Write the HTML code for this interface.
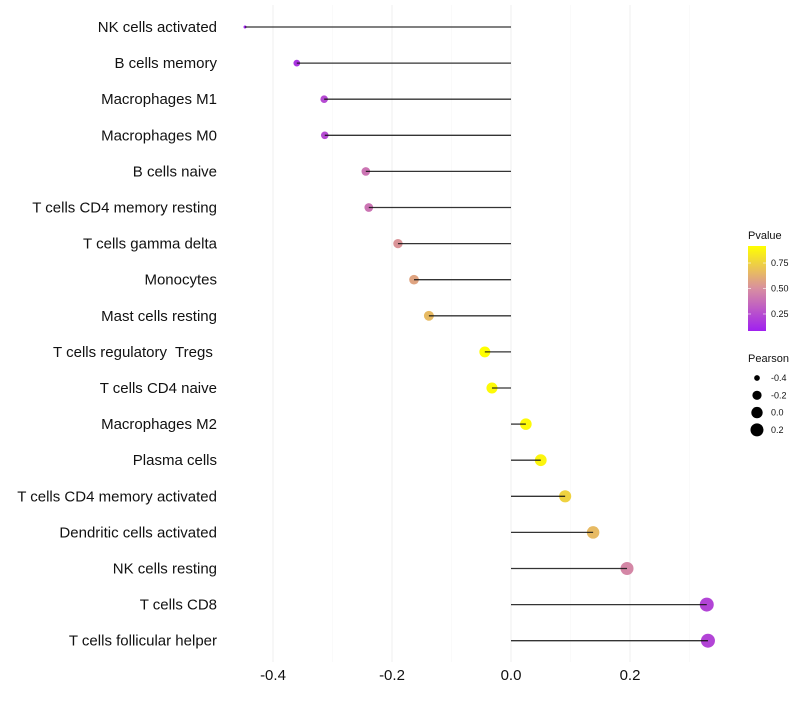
<!DOCTYPE html>
<html><head><meta charset="utf-8"><style>
body{margin:0;background:#fff;}
svg text{font-family:"Liberation Sans",sans-serif;white-space:pre;}
</style></head><body>
<svg id="chart" width="800" height="700" xml:space="preserve"></svg>
<script>
const categories=["NK cells activated","B cells memory","Macrophages M1","Macrophages M0","B cells naive","T cells CD4 memory resting","T cells gamma delta","Monocytes","Mast cells resting","T cells regulatory  Tregs ","T cells CD4 naive","Macrophages M2","Plasma cells","T cells CD4 memory activated","Dendritic cells activated","NK cells resting","T cells CD8","T cells follicular helper"];
const pearson=[-0.447,-0.360,-0.314,-0.313,-0.244,-0.239,-0.190,-0.163,-0.138,-0.044,-0.032,0.025,0.050,0.091,0.138,0.195,0.329,0.331];
const pvalue=[0.08,0.16,0.24,0.24,0.40,0.40,0.52,0.58,0.66,0.92,0.90,0.90,0.88,0.75,0.66,0.47,0.22,0.22];
const xTicks=[-0.4,-0.2,0.0,0.2];
const xTickLabels=["-0.4","-0.2","0.0","0.2"];
const xMinor=[-0.3,-0.1,0.1,0.3];
const pTicks=[0.25,0.50,0.75];
const sizeLegend=[-0.4,-0.2,0.0,0.2];

const NS="http://www.w3.org/2000/svg";
const svg=document.getElementById('chart');
function mk(t,a,p){const e=document.createElementNS(NS,t);for(const k in a)e.setAttribute(k,a[k]);(p||svg).appendChild(e);return e;}
const x=v=>511+v*595;
const y=i=>27+i*36.1;
const pMin=0.083,pMax=0.917;
function col(p){
  let t=(p-pMin)/(pMax-pMin);t=Math.max(0,Math.min(1,t));
  const a=[160,32,240],m=[216,143,160],b=[255,255,0];
  let c;
  if(t<0.5){const u=t*2;c=a.map((v,k)=>v+(m[k]-v)*u);}else{const u=(t-0.5)*2;c=m.map((v,k)=>v+(b[k]-v)*u);}
  return `rgb(${c.map(Math.round).join(',')})`;
}
const sMin=Math.min(...pearson),sMax=Math.max(...pearson);
const rad=v=>{const f=Math.max(0,(v-sMin)/(sMax-sMin));return 1.5+5.5*Math.sqrt(f);};

xMinor.forEach(v=>{const l=mk('line',{x1:x(v),x2:x(v),y1:5,y2:662,stroke:'#f7f7f7','stroke-width':0.6});
});
xTicks.forEach((v,i)=>{const l=mk('line',{x1:x(v),x2:x(v),y1:5,y2:662,stroke:'#f0f0f0','stroke-width':1.1});

const t=mk('text',{x:x(v),y:680,'text-anchor':'middle','font-size':15,fill:'#111'});t.textContent=xTickLabels[i];
});
categories.forEach((c,i)=>{
  const t=mk('text',{x:217,y:y(i)+5,'text-anchor':'end','font-size':15,fill:'#111'});t.textContent=c;
  
  const p=mk('circle',{cx:x(pearson[i]),cy:y(i),r:rad(pearson[i]),fill:col(pvalue[i])});
  
  const s=mk('line',{x1:x(0),x2:x(pearson[i]),y1:y(i),y2:y(i),stroke:'#111','stroke-width':1.3,'stroke-opacity':0.85});
  
});
const defs=mk('defs',{});
const g=mk('linearGradient',{id:'pg',x1:0,y1:1,x2:0,y2:0},defs);
for(let k=0;k<=10;k++){mk('stop',{offset:k/10,'stop-color':col(pMin+(pMax-pMin)*k/10)},g);}
const lt=mk('text',{x:748,y:239,'font-size':11,fill:'#111'});lt.textContent='Pvalue';

const bar=mk('rect',{x:748,y:246,width:18,height:85,fill:'url(#pg)'});

pTicks.forEach(p=>{const yy=331-(p-pMin)/(pMax-pMin)*85;
 mk('line',{x1:748,x2:751,y1:yy,y2:yy,stroke:'#fff','stroke-opacity':0.6});mk('line',{x1:763,x2:766,y1:yy,y2:yy,stroke:'#fff','stroke-opacity':0.6});
 const t=mk('text',{x:771,y:yy+3,'font-size':9,fill:'#111'});t.textContent=p.toFixed(2);
 });
const st=mk('text',{x:748,y:362,'font-size':11,fill:'#111'});st.textContent='Pearson';

sizeLegend.forEach((v,i)=>{const yy=378+i*17.3;
 const c=mk('circle',{cx:757,cy:yy,r:Math.max(2.8,rad(v)),fill:'#000'});
 const t=mk('text',{x:771,y:yy+3,'font-size':9,fill:'#111'});t.textContent=v.toFixed(1);
 });
</script>
</body></html>
